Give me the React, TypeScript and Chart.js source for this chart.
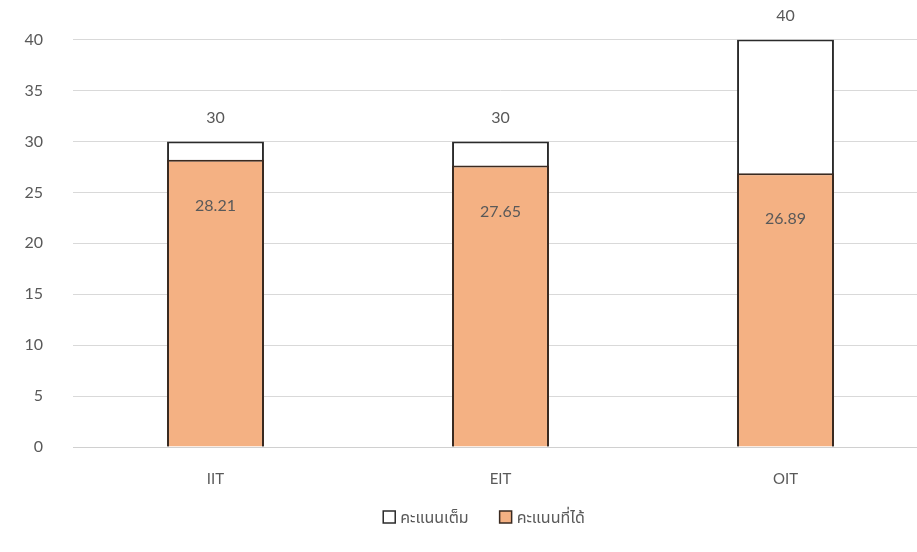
import React, { useEffect, useRef } from "react";
import { Chart, registerables } from "chart.js";

Chart.register(...registerables);

const categories = ["IIT", "EIT", "OIT"];
const fullScores = [30, 30, 40];
const earnedScores = [28.21, 27.65, 26.89];
const seriesNames = ["คะแนนเต็ม", "คะแนนที่ได้"];
const yTicks = [0, 5, 10, 15, 20, 25, 30, 35, 40];

const FONT = "Lato, 'Open Sans', 'Noto Sans', 'Noto Sans Thai', 'DejaVu Sans', sans-serif";
const TEXT = "#595959";

const labelPlugin = {
  id: "barLabels",
  afterDatasetsDraw(chart: any) {
    const ctx = chart.ctx;
    ctx.save();
    ctx.font = `16px ${FONT}`;
    ctx.fillStyle = TEXT;
    ctx.textAlign = "center";
    ctx.textBaseline = "middle";
    const full = chart.getDatasetMeta(0);
    full.data.forEach((bar: any, i: number) => {
      ctx.fillText(String(fullScores[i]), bar.x, bar.y - 24);
    });
    const earned = chart.getDatasetMeta(1);
    earned.data.forEach((bar: any, i: number) => {
      ctx.fillText(earnedScores[i].toFixed(2), bar.x, bar.y + 46);
    });
    ctx.restore();
  },
};

const legendPlugin = {
  id: "customLegend",
  afterDraw(chart: any) {
    const ctx = chart.ctx;
    ctx.save();
    ctx.font = `16px ${FONT}`;
    ctx.textBaseline = "middle";
    ctx.textAlign = "left";
    const box = 12;
    const gapText = 5;
    const gapItem = 31;
    const items = chart.data.datasets.map((d: any) => ({
      text: d.label,
      fill: d.backgroundColor,
      stroke: d.borderColor,
      w: ctx.measureText(d.label).width,
    }));
    const total = items.reduce((s: number, it: any) => s + box + gapText + it.w, 0) + gapItem * (items.length - 1);
    let x = 484 - total / 2;
    const y = 517;
    items.forEach((it: any) => {
      ctx.fillStyle = it.fill;
      ctx.fillRect(x, y - box / 2, box, box);
      ctx.strokeStyle = it.stroke;
      ctx.lineWidth = 1.5;
      ctx.strokeRect(x, y - box / 2, box, box);
      ctx.fillStyle = TEXT;
      ctx.fillText(it.text, x + box + gapText, y + 1);
      x += box + gapText + it.w + gapItem;
    });
    ctx.restore();
  },
};

export default function App() {
  const ref = useRef<HTMLCanvasElement>(null);
  useEffect(() => {
    if (!ref.current) return;
    const chart = new Chart(ref.current, {
      type: "bar",
      data: {
        labels: categories,
        datasets: [
          {
            label: seriesNames[0],
            data: fullScores,
            backgroundColor: "#ffffff",
            borderColor: "#2b2b2b",
            borderWidth: 2,
            grouped: false,
            order: 2,
            barPercentage: 0.34,
            categoryPercentage: 1,
          } as any,
          {
            label: seriesNames[1],
            data: earnedScores,
            backgroundColor: "#F4B183",
            borderColor: "#3a2a20",
            borderWidth: 2,
            grouped: false,
            order: 1,
            barPercentage: 0.34,
            categoryPercentage: 1,
          } as any,
        ],
      },
      options: {
        animation: false,
        responsive: true,
        maintainAspectRatio: false,
        layout: { padding: { top: 30, right: 2, left: 0, bottom: 49 } },
        plugins: {
          legend: { display: false },
          tooltip: { enabled: false },
        },
        scales: {
          x: {
            grid: { display: false },
            border: { color: "#d0d0d0", width: 1 },
            ticks: { color: TEXT, font: { size: 15, family: FONT }, padding: 15 },
          },
          y: {
            min: 0,
            max: 40,
            afterBuildTicks: (axis: any) => {
              axis.ticks = yTicks.map((v) => ({ value: v }));
            },
            afterFit: (axis: any) => {
              axis.width = 73;
            },
            grid: { color: "#d9d9d9", lineWidth: 1, drawTicks: false },
            border: { display: false },
            ticks: { color: TEXT, font: { size: 16, family: FONT }, padding: 30 },
          },
        },
      },
      plugins: [labelPlugin, legendPlugin],
    });
    return () => chart.destroy();
  }, []);
  return (
    <div style={{ position: "fixed", left: 0, top: 0, width: 917, height: 552, background: "#fff", overflow: "hidden" }}>
      <div style={{ position: "absolute", left: 0, top: 0, width: 930, height: 552 }}>
        <canvas ref={ref} />
      </div>
    </div>
  );
}
